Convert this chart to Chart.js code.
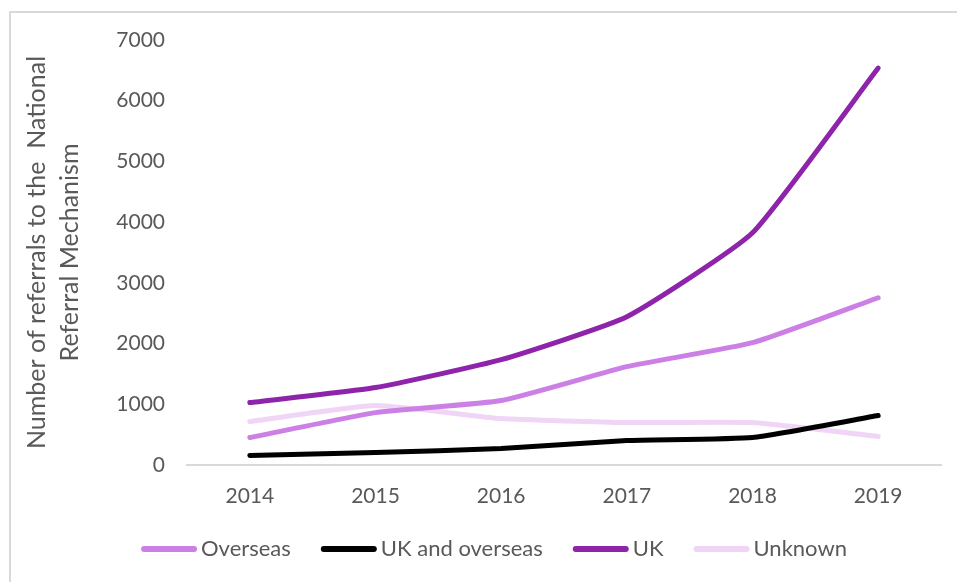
<!DOCTYPE html>
<html>
<head>
<meta charset="utf-8">
<script src="https://cdn.jsdelivr.net/npm/chart.js@4"></script>
<style>
  html, body { margin: 0; padding: 0; background: #fff; }
  #wrap { position: relative; width: 957px; height: 582px; overflow: hidden; }
  #frame { position: absolute; left: 9px; top: 11px; width: 1000px; height: 1000px;
           border-top: 2px solid #d9d9d9; border-left: 2px solid #d9d9d9; box-sizing: border-box; }
  canvas { position: absolute; left: 0; top: 0; }
</style>
</head>
<body>
<div id="wrap">
  <div id="frame"></div>
  <canvas id="c" width="957" height="582"></canvas>
</div>
<script>
const years = ['2014', '2015', '2016', '2017', '2018', '2019'];
const overseas = [452, 863, 1061, 1620, 2015, 2755];
const ukAndOverseas = [156, 206, 271, 403, 452, 814];
const uk = [1028, 1275, 1735, 2442, 3824, 6538];
const unknown = [715, 979, 765, 699, 699, 469];
const yTitle = ['Number of referrals to the  National', 'Referral Mechanism'];

const FONT = 'Lato, "Open Sans", sans-serif';
const TXT = '#595959';

function ds(label, data, color) {
  return {
    label, data,
    borderColor: color, backgroundColor: color,
    borderWidth: 5, borderCapStyle: 'round', borderJoinStyle: 'round',
    pointRadius: 0, pointHoverRadius: 0, tension: 0.15, fill: false
  };
}

const customLegend = {
  id: 'customLegend',
  afterDraw(chart) {
    const ctx = chart.ctx;
    const cfg = { y: 549, lineLen: 56, gapText: 4, gapItem: 30, centerX: 494 };
    ctx.save();
    ctx.font = '22px ' + FONT;
    const items = chart.data.datasets.map(d => ({ label: d.label, color: d.borderColor, w: ctx.measureText(d.label).width }));
    let total = 0;
    items.forEach((it, i) => { total += cfg.lineLen + cfg.gapText + it.w + (i < items.length - 1 ? cfg.gapItem : 0); });
    let x = cfg.centerX - total / 2;
    ctx.textBaseline = 'middle';
    ctx.textAlign = 'left';
    items.forEach(it => {
      ctx.strokeStyle = it.color;
      ctx.lineWidth = 6;
      ctx.lineCap = 'round';
      ctx.beginPath();
      ctx.moveTo(x + 3, cfg.y);
      ctx.lineTo(x + cfg.lineLen - 3, cfg.y);
      ctx.stroke();
      ctx.fillStyle = TXT;
      ctx.fillText(it.label, x + cfg.lineLen + cfg.gapText, cfg.y);
      x += cfg.lineLen + cfg.gapText + it.w + cfg.gapItem;
    });
    ctx.restore();
  }
};

new Chart(document.getElementById('c'), {
  type: 'line',
  data: {
    labels: years,
    datasets: [
      ds('Overseas', overseas, '#cc80e6'),
      ds('UK and overseas', ukAndOverseas, '#000000'),
      ds('UK', uk, '#8e24aa'),
      ds('Unknown', unknown, '#f0d5f7')
    ]
  },
  options: {
    responsive: false,
    animation: false,
    layout: { padding: { left: 20, right: 16, top: 40, bottom: 67 } },
    plugins: { legend: { display: false }, tooltip: { enabled: false } },
    scales: {
      x: {
        offset: true,
        grid: { display: false, drawTicks: false },
        border: { display: true, color: '#d9d9d9', width: 2 },
        ticks: { color: TXT, font: { family: FONT, size: 21 }, padding: 19 },
        afterFit: s => { s.height = 50; }
      },
      y: {
        min: 0, max: 7000,
        grid: { display: false, drawTicks: false },
        border: { display: false },
        ticks: { stepSize: 1000, color: TXT, font: { family: FONT, size: 21 }, padding: 22,
                 callback: v => String(v) },
        title: { display: true, text: yTitle, color: TXT, font: { family: FONT, size: 25, lineHeight: 1.3 }, padding: { top: 1, bottom: 0 } },
        afterFit: s => { s.width = 167; }
      }
    }
  },
  plugins: [customLegend]
});
</script>
</body>
</html>
